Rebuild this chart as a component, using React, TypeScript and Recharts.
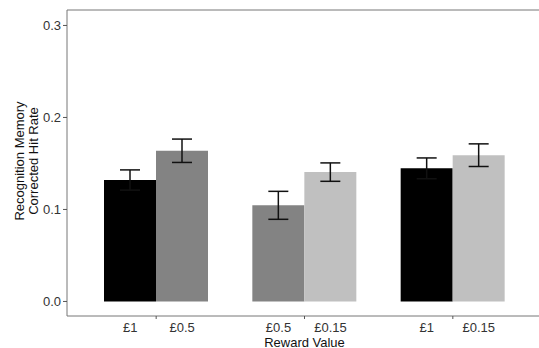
import React from 'react';
import { BarChart, Bar, XAxis, YAxis, ErrorBar, Cell, ReferenceLine } from 'recharts';

const groups = ['g1', 'g2', 'g3'];
const leftLabels = ['£1', '£0.5', '£1'];
const rightLabels = ['£0.5', '£0.15', '£0.15'];
const leftValues = [0.132, 0.1045, 0.1447];
const leftErrors = [0.011, 0.0152, 0.0113];
const rightValues = [0.1638, 0.1406, 0.159];
const rightErrors = [0.0127, 0.01, 0.0123];
const leftColors = ['#000000', '#838383', '#000000'];
const rightColors = ['#838383', '#c0c0c0', '#c0c0c0'];
const yTicks = [0, 0.1, 0.2, 0.3];

const Y_MIN = -0.0158;
const Y_MAX = 0.3168;
const PLOT_BOTTOM = 316;

const data = groups.map((g, i) => ({
    group: g,
    left: leftValues[i],
    leftErr: leftErrors[i],
    right: rightValues[i],
    rightErr: rightErrors[i],
}));

const FONT = 'Liberation Sans, Arial, sans-serif';

const XTick = (props: any) => {
    const { x, payload } = props;
    const i = payload.index;
    return (
        <g>
            <line x1={x} y1={PLOT_BOTTOM} x2={x} y2={PLOT_BOTTOM + 3} stroke="#555" />
            <text x={x - 26} y={PLOT_BOTTOM + 11} textAnchor="middle" dominantBaseline="central" fontSize={13} fill="#333" fontFamily={FONT}>
                {leftLabels[i]}
            </text>
            <text x={x + 26} y={PLOT_BOTTOM + 11} textAnchor="middle" dominantBaseline="central" fontSize={13} fill="#333" fontFamily={FONT}>
                {rightLabels[i]}
            </text>
        </g>
    );
};

const XTitle = (props: any) => {
    const vb = props.viewBox;
    return (
        <text x={vb.x + vb.width / 2} y={PLOT_BOTTOM + 26} textAnchor="middle" dominantBaseline="central" fontSize={13} fill="#111" fontFamily={FONT}>
            Reward Value
        </text>
    );
};

const YTitle = () => {
    const cy = 161;
    return (
        <g fontSize={13} fill="#111" fontFamily={FONT}>
            <text x={19.5} y={cy} transform={`rotate(-90 19.5 ${cy})`} textAnchor="middle" dominantBaseline="central">
                Recognition Memory
            </text>
            <text x={33} y={cy} transform={`rotate(-90 33 ${cy})`} textAnchor="middle" dominantBaseline="central">
                Corrected Hit Rate
            </text>
        </g>
    );
};

export default function App() {
    return (
        <div style={{ position: 'absolute', left: 0, top: 0, width: 539, height: 348, overflow: 'hidden', background: '#fff' }}>
            <BarChart
                width={542}
                height={348}
                data={data}
                margin={{ top: 10, right: 0, bottom: 0, left: 0 }}
                barGap={0}
                barCategoryGap={0}
            >
                <XAxis
                    dataKey="group"
                    type="category"
                    height={32}
                    padding={{ left: 15, right: 15 }}
                    axisLine={{ stroke: '#777' }}
                    tickLine={false}
                    tick={<XTick />}
                    interval={0}
                    label={<XTitle />}
                />
                <YAxis
                    type="number"
                    width={67}
                    domain={[Y_MIN, Y_MAX]}
                    ticks={yTicks}
                    allowDataOverflow
                    tickSize={4}
                    tickMargin={2}
                    tickFormatter={(v: number) => v.toFixed(1)}
                    axisLine={{ stroke: '#777' }}
                    tickLine={{ stroke: '#555' }}
                    tick={{ fontSize: 13, fill: '#333', fontFamily: FONT }}
                    label={<YTitle />}
                />
                <ReferenceLine y={Y_MAX} stroke="#777" ifOverflow="visible" />
                <Bar dataKey="left" barSize={52} isAnimationActive={false}>
                    {data.map((d, i) => (
                        <Cell key={`l-${i}`} fill={leftColors[i]} />
                    ))}
                    <ErrorBar dataKey="leftErr" width={10} stroke="#111" strokeWidth={1.5} />
                </Bar>
                <Bar dataKey="right" barSize={52} isAnimationActive={false}>
                    {data.map((d, i) => (
                        <Cell key={`r-${i}`} fill={rightColors[i]} />
                    ))}
                    <ErrorBar dataKey="rightErr" width={10} stroke="#111" strokeWidth={1.5} />
                </Bar>
            </BarChart>
        </div>
    );
}
